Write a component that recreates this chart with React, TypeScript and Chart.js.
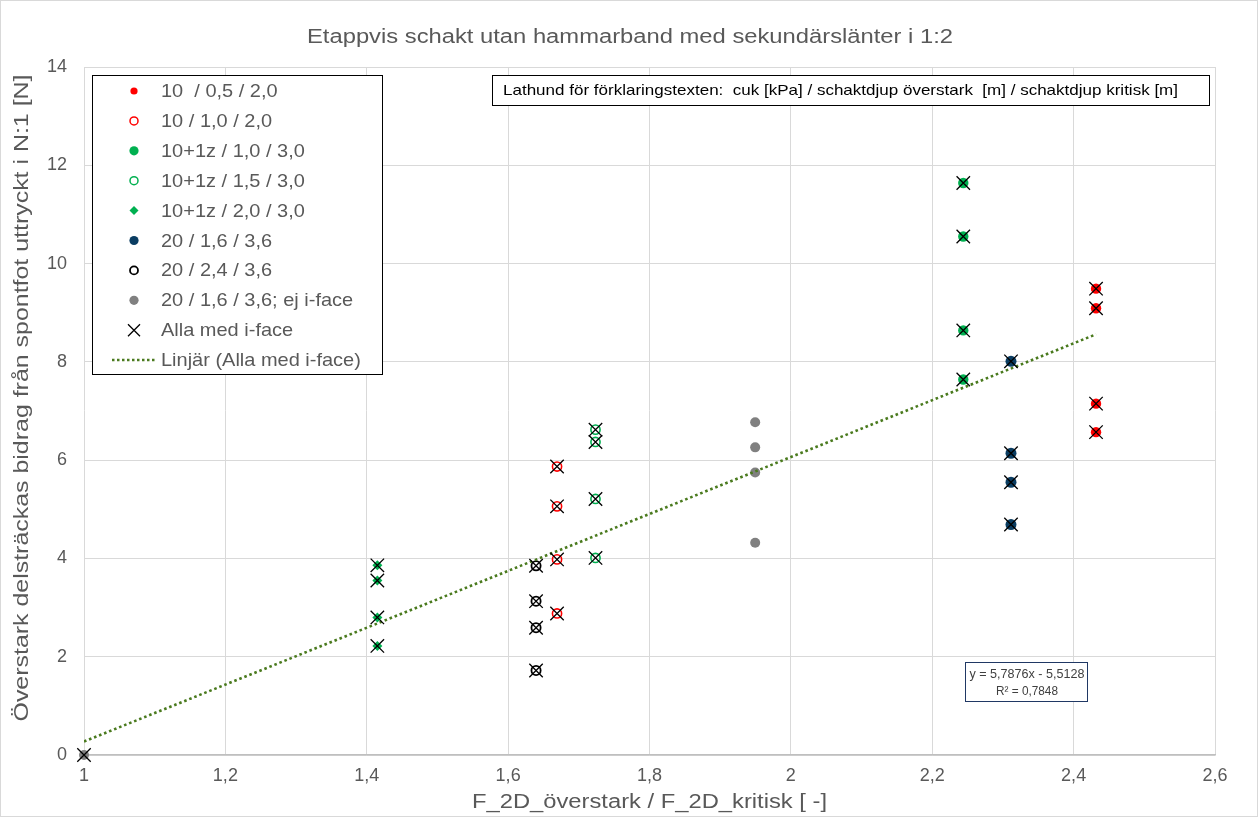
import React, { useEffect, useRef } from 'react';
import { Chart, registerables } from 'chart.js';

Chart.register(...registerables);

const FONT = '"Liberation Sans", Arial, sans-serif';

const chartTitle = 'Etappvis schakt utan hammarband med sekundärslänter i 1:2';
const xAxisTitle = 'F_2D_överstark / F_2D_kritisk [ -]';
const yAxisTitle = 'Överstark delsträckas bidrag från spontfot uttryckt i N:1 [N]';
const noteText = 'Lathund för förklaringstexten:  cuk [kPa] / schaktdjup överstark  [m] / schaktdjup kritisk [m]';
const equationLines = ['y = 5,7876x - 5,5128', 'R² = 0,7848'];

const xTickValues = [1, 1.2, 1.4, 1.6, 1.8, 2, 2.2, 2.4, 2.6];
const xTickLabels = ['1', '1,2', '1,4', '1,6', '1,8', '2', '2,2', '2,4', '2,6'];
const yTickValues = [0, 2, 4, 6, 8, 10, 12, 14];
const yTickLabels = ['0', '2', '4', '6', '8', '10', '12', '14'];

const seriesNames = [
  '10  / 0,5 / 2,0',
  '10 / 1,0 / 2,0',
  '10+1z / 1,0 / 3,0',
  '10+1z / 1,5 / 3,0',
  '10+1z / 2,0 / 3,0',
  '20 / 1,6 / 3,6',
  '20 / 2,4 / 3,6',
  '20 / 1,6 / 3,6; ej i-face',
  'Alla med i-face',
  'Linjär (Alla med i-face)',
];

// 10 / 0,5 / 2,0
const redFilledX = [2.4317, 2.4317, 2.4317, 2.4317];
const redFilledY = [9.49, 9.09, 7.15, 6.57];
// 10 / 1,0 / 2,0
const redOpenX = [1.6692, 1.6692, 1.6692, 1.6692];
const redOpenY = [5.87, 5.06, 3.98, 2.88];
// 10+1z / 1,0 / 3,0
const greenFilledX = [2.2439, 2.2439, 2.2439, 2.2439];
const greenFilledY = [11.64, 10.55, 8.64, 7.64];
// 10+1z / 1,5 / 3,0
const greenOpenX = [1.7236, 1.7236, 1.7236, 1.7236];
const greenOpenY = [6.62, 6.37, 5.21, 4.01];
// 10+1z / 2,0 / 3,0
const greenDiamondX = [1.415, 1.415, 1.415, 1.415];
const greenDiamondY = [3.86, 3.55, 2.8, 2.22];
// 20 / 1,6 / 3,6
const navyX = [2.3114, 2.3114, 2.3114, 2.3114];
const navyY = [8.01, 6.14, 5.55, 4.69];
// 20 / 2,4 / 3,6
const blackOpenX = [1.6395, 1.6395, 1.6395, 1.6395];
const blackOpenY = [3.85, 3.13, 2.59, 1.72];
// 20 / 1,6 / 3,6; ej i-face
const grayX = [1, 1.9495, 1.9495, 1.9495, 1.9495];
const grayY = [0, 6.77, 6.26, 5.75, 4.32];
// origin point included in "Alla med i-face"
const originX = [1];
const originY = [0];

const trendSlope = 5.7876;
const trendIntercept = -5.5128;

const RED = '#ff0000';
const GREEN = '#00b050';
const NAVY = '#0a3d62';
const GRAY = '#808080';
const TREND = '#4a7a1e';
const TEXT = '#595959';

const pts = (xs: number[], ys: number[]) => xs.map((x, i) => ({ x, y: ys[i] }));

function drawText(
  ctx: CanvasRenderingContext2D,
  s: string,
  x: number,
  y: number,
  size: number,
  color: string,
  align: CanvasTextAlign = 'left',
  sx = 1,
) {
  ctx.save();
  ctx.font = `${size}px ${FONT}`;
  ctx.fillStyle = color;
  ctx.textBaseline = 'middle';
  ctx.textAlign = align;
  ctx.translate(x, y);
  ctx.scale(sx, 1);
  ctx.fillText(s, 0, 0);
  ctx.restore();
}

function fitText(
  ctx: CanvasRenderingContext2D,
  s: string,
  cx: number,
  cy: number,
  size: number,
  width: number,
  color: string,
  rotate = 0,
) {
  ctx.save();
  ctx.font = `${size}px ${FONT}`;
  const w = ctx.measureText(s).width;
  const sx = width / w;
  ctx.translate(cx, cy);
  ctx.rotate(rotate);
  ctx.scale(sx, 1);
  ctx.fillStyle = color;
  ctx.textAlign = 'center';
  ctx.textBaseline = 'middle';
  ctx.fillText(s, 0, 0);
  ctx.restore();
}

type Marker = 'dotSmall' | 'openRed' | 'dot' | 'openGreen' | 'diamond' | 'navy' | 'openBlack' | 'gray' | 'x' | 'line';
const legendMarkers: Marker[] = ['dotSmall', 'openRed', 'dot', 'openGreen', 'diamond', 'navy', 'openBlack', 'gray', 'x', 'line'];

function drawMarker(ctx: CanvasRenderingContext2D, m: Marker, x: number, y: number) {
  ctx.save();
  const circle = (r: number, fill: string | null, stroke: string | null, lw = 1.5) => {
    ctx.beginPath();
    ctx.arc(x, y, r, 0, Math.PI * 2);
    if (fill) {
      ctx.fillStyle = fill;
      ctx.fill();
    }
    if (stroke) {
      ctx.strokeStyle = stroke;
      ctx.lineWidth = lw;
      ctx.stroke();
    }
  };
  switch (m) {
    case 'dotSmall':
      circle(3.6, RED, null);
      break;
    case 'openRed':
      circle(4, null, RED);
      break;
    case 'dot':
      circle(4.6, GREEN, null);
      break;
    case 'openGreen':
      circle(4, null, GREEN);
      break;
    case 'diamond':
      ctx.beginPath();
      ctx.moveTo(x - 4.5, y);
      ctx.lineTo(x, y - 4.5);
      ctx.lineTo(x + 4.5, y);
      ctx.lineTo(x, y + 4.5);
      ctx.closePath();
      ctx.fillStyle = GREEN;
      ctx.fill();
      break;
    case 'navy':
      circle(4.6, NAVY, null);
      break;
    case 'openBlack':
      circle(4, null, '#000000', 1.8);
      break;
    case 'gray':
      circle(4.6, GRAY, null);
      break;
    case 'x':
      ctx.strokeStyle = '#000000';
      ctx.lineWidth = 1.3;
      ctx.beginPath();
      ctx.moveTo(x - 6, y - 6);
      ctx.lineTo(x + 6, y + 6);
      ctx.moveTo(x + 6, y - 6);
      ctx.lineTo(x - 6, y + 6);
      ctx.stroke();
      break;
    case 'line':
      ctx.strokeStyle = TREND;
      ctx.lineWidth = 2.5;
      ctx.setLineDash([2.5, 2.5]);
      ctx.beginPath();
      ctx.moveTo(x - 22, y);
      ctx.lineTo(x + 23, y);
      ctx.stroke();
      break;
  }
  ctx.restore();
}

const decorPlugin = {
  id: 'decor',
  beforeDraw(chart: any) {
    const ctx: CanvasRenderingContext2D = chart.ctx;
    ctx.save();
    ctx.fillStyle = '#ffffff';
    ctx.fillRect(0, 0, chart.width, chart.height);
    ctx.restore();
  },
  afterDraw(chart: any) {
    const ctx: CanvasRenderingContext2D = chart.ctx;
    const area = chart.chartArea;

    // outer border
    ctx.save();
    ctx.strokeStyle = '#d9d9d9';
    ctx.lineWidth = 1;
    ctx.strokeRect(0.5, 0.5, chart.width - 1, chart.height - 1);
    ctx.restore();

    // titles
    fitText(ctx, chartTitle, 630, 37, 20, 646, TEXT);
    fitText(ctx, xAxisTitle, (area.left + area.right) / 2, 802, 20, 355, TEXT);
    fitText(ctx, yAxisTitle, 22, 398, 20, 647, TEXT, -Math.PI / 2);

    // legend box
    ctx.save();
    ctx.fillStyle = '#ffffff';
    ctx.fillRect(92, 75, 291, 300);
    ctx.strokeStyle = '#000000';
    ctx.lineWidth = 1;
    ctx.strokeRect(92.5, 75.5, 290, 299);
    ctx.restore();
    for (let i = 0; i < seriesNames.length; i++) {
      const y = 91 + i * 29.9;
      drawMarker(ctx, legendMarkers[i], 134, y);
      drawText(ctx, seriesNames[i], 161, y + 1, 18.5, TEXT, 'left', 1.08);
    }

    // note box
    ctx.save();
    ctx.fillStyle = '#ffffff';
    ctx.fillRect(492, 75, 718, 31);
    ctx.strokeStyle = '#000000';
    ctx.lineWidth = 1;
    ctx.strokeRect(492.5, 75.5, 717, 30);
    ctx.restore();
    fitText(ctx, noteText, 503 + 675 / 2, 91, 15, 675, '#000000');

    // equation box
    ctx.save();
    ctx.fillStyle = '#ffffff';
    ctx.fillRect(965, 662, 123, 40);
    ctx.strokeStyle = '#203864';
    ctx.lineWidth = 1;
    ctx.strokeRect(965.5, 662.5, 122, 39);
    ctx.restore();
    fitText(ctx, equationLines[0], 1027, 674, 13.5, 115, '#404040');
    fitText(ctx, equationLines[1], 1027, 691, 13.5, 62, '#404040');
  },
};

export default function App() {
  const ref = useRef<HTMLCanvasElement | null>(null);

  useEffect(() => {
    document.body.style.margin = '0';
    const canvas = ref.current;
    if (!canvas) return;

    const iFaceX = [
      ...originX,
      ...redFilledX,
      ...redOpenX,
      ...greenFilledX,
      ...greenOpenX,
      ...greenDiamondX,
      ...navyX,
      ...blackOpenX,
    ];
    const iFaceY = [
      ...originY,
      ...redFilledY,
      ...redOpenY,
      ...greenFilledY,
      ...greenOpenY,
      ...greenDiamondY,
      ...navyY,
      ...blackOpenY,
    ];
    const tMin = Math.min(...iFaceX);
    const tMax = Math.max(...iFaceX);
    const trend = [
      { x: tMin, y: trendSlope * tMin + trendIntercept },
      { x: tMax, y: trendSlope * tMax + trendIntercept },
    ];

    const chart = new Chart(canvas, {
      type: 'scatter',
      data: {
        datasets: [
          {
            label: seriesNames[8],
            data: pts(iFaceX, iFaceY),
            pointStyle: 'crossRot',
            pointRadius: 9.5,
            borderColor: '#000000',
            backgroundColor: '#000000',
            pointBorderWidth: 1.3,
            clip: false,
            order: 0,
          } as any,
          {
            type: 'line',
            label: seriesNames[9],
            data: trend,
            borderColor: TREND,
            borderWidth: 2.6,
            borderDash: [2.6, 2.8],
            pointRadius: 0,
            fill: false,
            order: 1,
          } as any,
          {
            label: seriesNames[7],
            data: pts(grayX, grayY),
            pointStyle: 'circle',
            pointRadius: 5,
            backgroundColor: GRAY,
            borderColor: GRAY,
            pointBorderWidth: 0,
            clip: false,
            order: 2,
          } as any,
          {
            label: seriesNames[6],
            data: pts(blackOpenX, blackOpenY),
            pointStyle: 'circle',
            pointRadius: 4.6,
            backgroundColor: 'rgba(0,0,0,0)',
            borderColor: '#000000',
            pointBorderWidth: 1.8,
            order: 3,
          },
          {
            label: seriesNames[5],
            data: pts(navyX, navyY),
            pointStyle: 'circle',
            pointRadius: 5.5,
            backgroundColor: NAVY,
            borderColor: NAVY,
            pointBorderWidth: 0,
            order: 4,
          },
          {
            label: seriesNames[4],
            data: pts(greenDiamondX, greenDiamondY),
            pointStyle: 'rectRot',
            pointRadius: 5,
            backgroundColor: GREEN,
            borderColor: GREEN,
            pointBorderWidth: 0,
            order: 5,
          },
          {
            label: seriesNames[3],
            data: pts(greenOpenX, greenOpenY),
            pointStyle: 'circle',
            pointRadius: 4.6,
            backgroundColor: 'rgba(0,0,0,0)',
            borderColor: GREEN,
            pointBorderWidth: 1.6,
            order: 6,
          },
          {
            label: seriesNames[2],
            data: pts(greenFilledX, greenFilledY),
            pointStyle: 'circle',
            pointRadius: 5.2,
            backgroundColor: GREEN,
            borderColor: GREEN,
            pointBorderWidth: 0,
            order: 7,
          },
          {
            label: seriesNames[1],
            data: pts(redOpenX, redOpenY),
            pointStyle: 'circle',
            pointRadius: 4.6,
            backgroundColor: 'rgba(0,0,0,0)',
            borderColor: RED,
            pointBorderWidth: 1.6,
            order: 8,
          },
          {
            label: seriesNames[0],
            data: pts(redFilledX, redFilledY),
            pointStyle: 'circle',
            pointRadius: 5.2,
            backgroundColor: RED,
            borderColor: RED,
            pointBorderWidth: 0,
            order: 9,
          },
        ],
      },
      options: {
        responsive: false,
        animation: false,
        devicePixelRatio: 1,
        layout: { padding: { top: 67, right: 43, left: 0, bottom: 0 } },
        plugins: {
          legend: { display: false },
          title: { display: false },
          tooltip: { enabled: false },
        },
        scales: {
          x: {
            type: 'linear',
            min: 1,
            max: 2.6,
            afterFit: (s: any) => {
              s.height = 62;
            },
            afterBuildTicks: (s: any) => {
              s.ticks = xTickValues.map((v) => ({ value: v }));
            },
            ticks: {
              padding: 10,
              autoSkip: false,
              maxRotation: 0,
              font: { family: FONT, size: 18 },
              color: TEXT,
              callback: (v: any) => {
                const i = xTickValues.findIndex((t) => Math.abs(t - Number(v)) < 1e-6);
                return i >= 0 ? xTickLabels[i] : '';
              },
            },
            grid: { color: '#d9d9d9', lineWidth: 1, drawTicks: false },
            border: { display: true, color: '#bfbfbf', width: 1.5 },
          },
          y: {
            type: 'linear',
            min: 0,
            max: 14,
            afterFit: (s: any) => {
              s.width = 84;
            },
            afterBuildTicks: (s: any) => {
              s.ticks = yTickValues.map((v) => ({ value: v }));
            },
            ticks: {
              padding: 17,
              autoSkip: false,
              font: { family: FONT, size: 18 },
              color: TEXT,
              callback: (v: any) => {
                const i = yTickValues.findIndex((t) => Math.abs(t - Number(v)) < 1e-6);
                return i >= 0 ? yTickLabels[i] : '';
              },
            },
            grid: { color: '#d9d9d9', lineWidth: 1, drawTicks: false },
            border: { display: false },
          },
        },
      },
      plugins: [decorPlugin],
    });

    return () => chart.destroy();
  }, []);

  return (
    <canvas
      ref={ref}
      width={1258}
      height={817}
      style={{ display: 'block', width: 1258, height: 817 }}
    />
  );
}
